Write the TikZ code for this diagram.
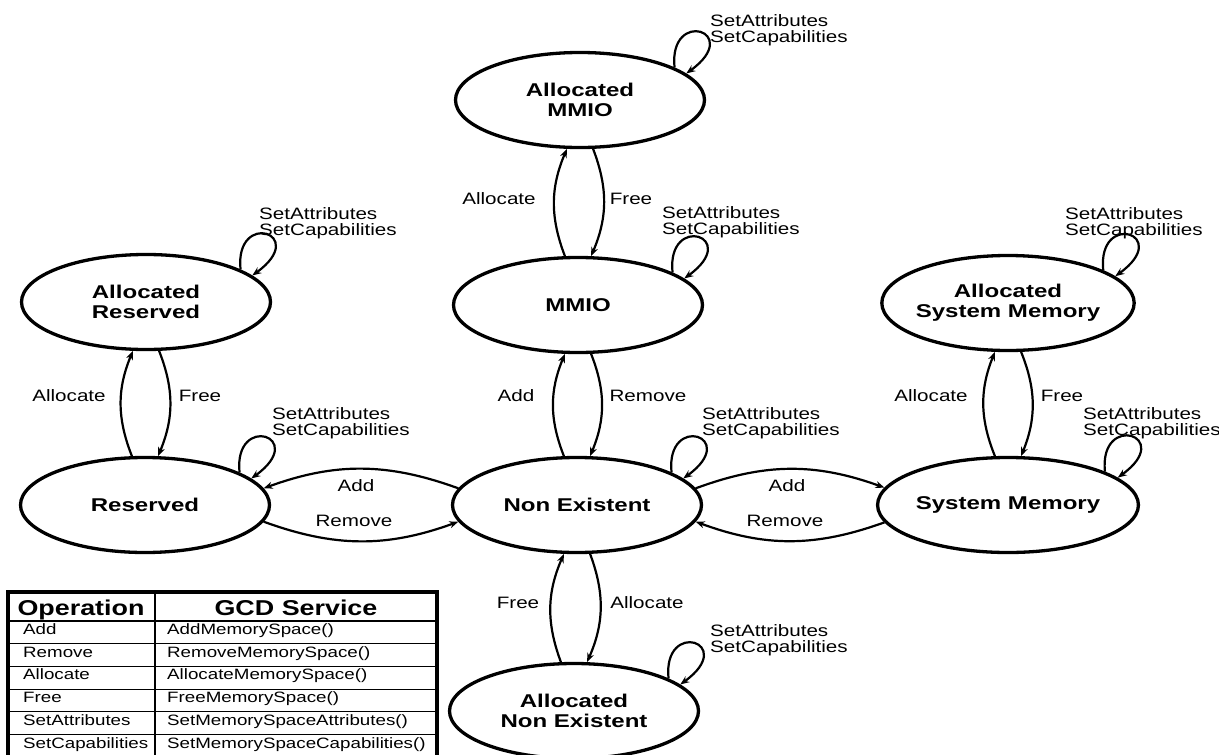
\documentclass[tikz,border=0pt]{standalone}
\usepackage{fontspec}
\setmainfont{Liberation Sans}
\newfontfamily\statefont[FakeStretch=1.3]{Liberation Sans}
\newfontfamily\lblfont[FakeStretch=1.25]{Liberation Sans}
\usepackage{tikz}
\usetikzlibrary{shapes.geometric,arrows.meta}

\tikzset{
  memstate/.style={ellipse, draw, line width=3.3pt, minimum width=249pt, minimum height=95pt,
    inner sep=0pt, align=center, font=\statefont\bfseries\fontsize{18.5}{20}\selectfont},
  conn/.style={line width=2.2pt, ->},
  oplbl/.style={inner sep=0pt, font=\lblfont\fontsize{16.5}{16}\selectfont},
  looplbl/.style={oplbl, anchor=west, align=left},
  tblhead/.style={inner sep=0pt, anchor=base, font=\lblfont\bfseries\fontsize{21.5}{22}\selectfont},
  tblcell/.style={inner sep=0pt, anchor=base west, font=\lblfont\fontsize{15}{16}\selectfont},
  tblrule/.style={line width=1.2pt}
}

\begin{document}
\begin{tikzpicture}[x=1pt, y=-1pt, >={Stealth[length=9pt,width=7pt]}]

    \fill[white] (0,0) rectangle (1219,755);
    \useasboundingbox (0,0) rectangle (1219,755);

    % States
    \node[memstate] (ammio) at (580,100) {Allocated\\MMIO};
    \node[memstate] (mmio)  at (578,305) {MMIO};
    \node[memstate] (ares)  at (146,302) {Allocated\\Reserved};
    \node[memstate, inner xsep=-3pt] (asm) at (1008,303) {Allocated\\System Memory};
    \node[memstate] (res)   at (145,505) {Reserved};
    \node[memstate] (ne)    at (577,505) {Non Existent};
    \node[memstate] (sm)    at (1008,505) {System Memory};
    \node[memstate] (ane)   at (574,711) {Allocated\\Non Existent};

    % Self loops
    \foreach \n in {ammio,mmio,ares,asm,res,ne,sm,ane} {
        \draw[conn] (\n.19) .. controls +(-6,-60) and +(58,-42) .. (\n.14);
    }

    % Loop labels
    \foreach \n/\x/\y in {ammio/710/30, mmio/662/222, ares/259/223, asm/1065/223,
                          res/272/423, ne/702/423, sm/1083/423, ane/710/640} {
        \node[looplbl] (\n-loop) at (\x,\y) {SetAttributes\\SetCapabilities};
    }

    % MMIO <-> Allocated MMIO
    \draw[conn] (mmio.105) to[bend left=22] (ammio.255);
    \draw[conn] (ammio.285) to[bend left=22] (mmio.75);
    \node[oplbl] (mmio-alloc) at (499,199) {Allocate};
    \node[oplbl] (mmio-free)  at (631,199) {Free};

    % Non Existent <-> MMIO
    \draw[conn] (ne.105) to[bend left=22] (mmio.255);
    \draw[conn] (mmio.285) to[bend left=22] (ne.75);
    \node[oplbl] (mmio-add) at (516,396) {Add};
    \node[oplbl] (mmio-rem) at (648,396) {Remove};

    % Reserved <-> Allocated Reserved
    \draw[conn] (res.105) to[bend left=22] (ares.255);
    \draw[conn] (ares.285) to[bend left=22] (res.75);
    \node[oplbl] (res-alloc) at (69,396) {Allocate};
    \node[oplbl] (res-free)  at (200,396) {Free};

    % System Memory <-> Allocated System Memory
    \draw[conn] (sm.105) to[bend left=22] (asm.255);
    \draw[conn] (asm.285) to[bend left=22] (sm.75);
    \node[oplbl] (sm-alloc) at (931,396) {Allocate};
    \node[oplbl] (sm-free)  at (1062,396) {Free};

    % Non Existent <-> Allocated Non Existent
    \draw[conn] (ane.105) to[bend left=22] (ne.255);
    \draw[conn] (ne.285) to[bend left=22] (ane.75);
    \node[oplbl] (ne-free)  at (518,603) {Free};
    \node[oplbl] (ne-alloc) at (647,603) {Allocate};

    % Non Existent <-> Reserved / System Memory
    \draw[conn] (ne.172) to[bend right=20] (res.8);
    \draw[conn] (res.352) to[bend right=20] (ne.188);
    \draw[conn] (ne.8) to[bend left=20] (sm.172);
    \draw[conn] (sm.188) to[bend left=20] (ne.352);
    \node[oplbl] (res-add) at (356,486) {Add};
    \node[oplbl] (res-rem) at (354,521) {Remove};
    \node[oplbl] (sm-add)  at (787,486) {Add};
    \node[oplbl] (sm-rem)  at (785,521) {Remove};

    % Operation table
    \draw[line width=4pt] (8,592) rectangle (437,765);
    \draw[tblrule] (155,592) -- (155,765);
    \foreach \i in {0,...,5} {
        \draw[tblrule] (8,{621+22.7*\i}) -- (437,{621+22.7*\i});
    }
    \node[tblhead] (hdr-op)  at (81,615)  {Operation};
    \node[tblhead] (hdr-svc) at (296,615) {GCD Service};
    \foreach \op/\svc [count=\i] in {Add/AddMemorySpace(), Remove/RemoveMemorySpace(),
            Allocate/AllocateMemorySpace(), Free/FreeMemorySpace(),
            SetAttributes/SetMemorySpaceAttributes(), SetCapabilities/SetMemorySpaceCapabilities()} {
        \node[tblcell] (op\i)  at (23,{621+22.7*(\i-1)+13.5})  {\op};
        \node[tblcell] (svc\i) at (167,{621+22.7*(\i-1)+13.5}) {\svc};
    }

\end{tikzpicture}
\end{document}
